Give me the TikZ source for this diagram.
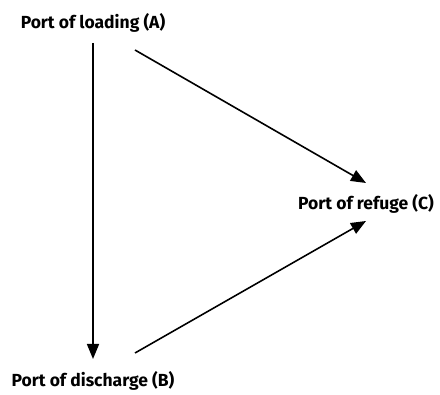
\documentclass[tikz,border=0pt]{standalone}
\usepackage{fontspec}
\setmainfont{Fira Sans}
\usetikzlibrary{arrows.meta,positioning}

\begin{document}
\begin{tikzpicture}[
		x=1pt, y=-1pt,
		arrow/.style={-{Triangle[length=15pt,width=12pt]}, line width=1.6pt},
		port/.style={font=\bfseries\fontsize{17.5}{20}\selectfont, inner sep=0pt},
	]
		\useasboundingbox (0,0) rectangle (440,395);
		\node (loading) [port] at (93,23) {Port of loading (A)};
		\node (refuge) [port] at (366,204) {Port of refuge (C)};
		\node (discharge) [port] at (93,381) {Port of discharge (B)};
		\coordinate (ab) at (93,43);
		\coordinate (ba) at (93,359);
		\coordinate (ac) at (135,50);
		\coordinate (ca) at (366,183);
		\coordinate (bc) at (135,353);
		\coordinate (cb) at (366,221);
		
		\draw[arrow] (ab) -- (ba);
		\draw[arrow] (ac) -- (ca);
		\draw[arrow] (bc) -- (cb);
	\end{tikzpicture}
\end{document}
